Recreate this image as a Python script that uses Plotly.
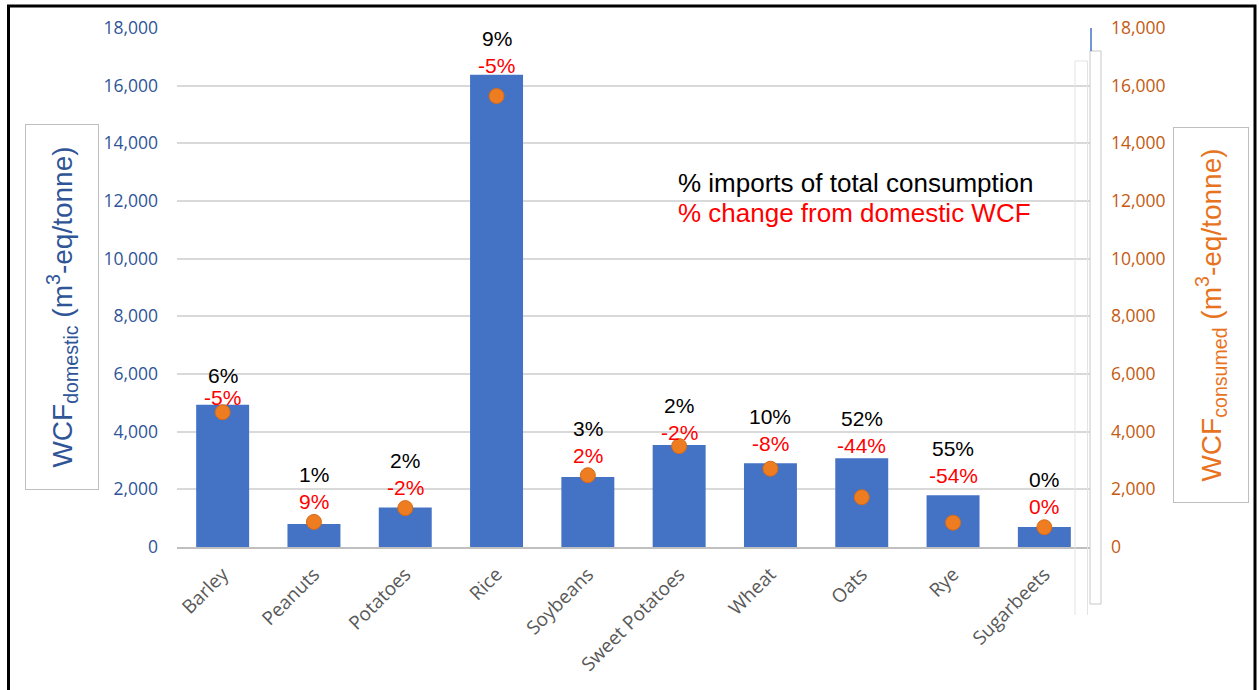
import plotly.graph_objects as go

crops = ["Barley", "Peanuts", "Potatoes", "Rice", "Soybeans", "Sweet Potatoes",
         "Wheat", "Oats", "Rye", "Sugarbeets"]
wcf_domestic = [4930, 800, 1370, 16380, 2430, 3540, 2905, 3080, 1795, 695]
wcf_consumed = [4675, 870, 1350, 15640, 2490, 3500, 2715, 1725, 845, 685]
imports_pct = [6, 1, 2, 9, 3, 2, 10, 52, 55, 0]
change_pct = [-5, 9, -2, -5, 2, -2, -8, -44, -54, 0]
y_ticks = list(range(0, 18001, 2000))

# manual label nudges (pixels: red label, black label), as placed in the original chart
label_nudge = {"Barley": (-13, -18), "Rice": (-11, -11), "Sweet Potatoes": (-8, -8), "Oats": (-7, -7)}

W, H = 1259, 690
L, R, T, B = 177, 1090, 28, 547  # plot area in pixels


def px(x):
    return (x - L) / (R - L)


def py(y):
    return (B - y) / (B - T)


fig = go.Figure()
fig.add_trace(go.Bar(x=crops, y=wcf_domestic, marker=dict(color="#4472C4", line=dict(width=0)),
                     width=0.58, yaxis="y", name="WCF domestic"))
fig.add_trace(go.Scatter(x=crops, y=wcf_consumed, mode="markers", yaxis="y2", name="WCF consumed",
                         marker=dict(size=15, color="#EE7D22", line=dict(width=1, color="#D86A17"))))

annotations = []
for c, d, v, imp, chg in zip(crops, wcf_domestic, wcf_consumed, imports_pct, change_pct):
    top = max(d, v)
    nr, nb = label_nudge.get(c, (0, 0))
    annotations.append(dict(x=c, y=top, xref="x", yref="y", text=f"{chg}%", showarrow=False,
                            yshift=20 + nr, yanchor="middle",
                            font=dict(family="Liberation Sans", size=21, color="#FF0000")))
    annotations.append(dict(x=c, y=top, xref="x", yref="y", text=f"{imp}%", showarrow=False,
                            yshift=47 + nb, yanchor="middle",
                            font=dict(family="Liberation Sans", size=21, color="#000000")))

annotations.append(dict(x=px(676), y=py(183), xref="paper", yref="paper", xanchor="left", yanchor="middle",
                        text="% imports of total consumption", showarrow=False,
                        font=dict(family="Liberation Sans", size=26, color="#000000")))
annotations.append(dict(x=px(676), y=py(213), xref="paper", yref="paper", xanchor="left", yanchor="middle",
                        text="% change from domestic WCF", showarrow=False,
                        font=dict(family="Liberation Sans", size=26, color="#FF0000")))

annotations.append(dict(x=px(62), y=py(307), xref="paper", yref="paper", xanchor="center", yanchor="middle",
                        text="WCF<sub>domestic</sub> (m<sup>3</sup>-eq/tonne)", showarrow=False,
                        textangle=-90, width=362, height=70, bordercolor="#BFBFBF", borderwidth=1,
                        font=dict(family="Liberation Sans", size=28, color="#2F5597")))
annotations.append(dict(x=px(1211), y=py(315), xref="paper", yref="paper", xanchor="center", yanchor="middle",
                        text="WCF<sub>consumed</sub> (m<sup>3</sup>-eq/tonne)", showarrow=False,
                        textangle=-90, width=372, height=72, bordercolor="#BFBFBF", borderwidth=1,
                        font=dict(family="Liberation Sans", size=28, color="#E8731E")))

shapes = [
    # outer black frame
    dict(type="rect", xref="paper", yref="paper", x0=px(8.5), x1=px(1255), y0=py(700), y1=py(6),
         line=dict(color="#000000", width=3), fillcolor="rgba(0,0,0,0)", layer="above"),
    # leftover chart-object outlines at right of the plot
    dict(type="rect", xref="paper", yref="paper", x0=px(1090), x1=px(1101), y0=py(604), y1=py(51),
         line=dict(color="#C8C8C8", width=1), fillcolor="rgba(0,0,0,0)"),
    dict(type="line", xref="paper", yref="paper", x0=px(1075), x1=px(1075), y0=py(615), y1=py(61),
         line=dict(color="#E3E3E3", width=1)),
    dict(type="line", xref="paper", yref="paper", x0=px(1087.5), x1=px(1087.5), y0=py(615), y1=py(61),
         line=dict(color="#E3E3E3", width=1)),
    dict(type="line", xref="paper", yref="paper", x0=px(1075), x1=px(1087.5), y0=py(61), y1=py(61),
         line=dict(color="#E3E3E3", width=1)),
    dict(type="line", xref="paper", yref="paper", x0=px(1091), x1=px(1091), y0=py(51), y1=py(28),
         line=dict(color="#4472C4", width=1.5)),
]

fig.update_layout(
    width=W, height=H,
    margin=dict(l=L, r=W - R, t=T, b=H - B, pad=0),
    paper_bgcolor="white", plot_bgcolor="white",
    showlegend=False,
    bargap=0.42,
    annotations=annotations,
    shapes=shapes,
    xaxis=dict(range=[-0.5, 9.5], tickangle=-45, showline=True, linecolor="#BFBFBF", linewidth=1.5,
               ticks="outside", ticklen=7, tickcolor="rgba(0,0,0,0)", showgrid=False,
               tickfont=dict(family="Open Sans", size=19, color="#595959")),
    yaxis=dict(range=[0, 18000], tickvals=y_ticks, tickformat=",", showgrid=True, gridcolor="#D9D9D9",
               gridwidth=1.5, zeroline=False, showline=False, ticks="", ticklabelstandoff=18,
               tickfont=dict(family="Open Sans", size=17.5, color="#2F5597")),
    yaxis2=dict(range=[0, 18000], tickvals=y_ticks, tickformat=",", overlaying="y", side="right",
                showgrid=False, zeroline=False, showline=False, ticks="", ticklabelstandoff=20,
                tickfont=dict(family="Open Sans", size=17.5, color="#C55A11")),
)

fig.write_html("out.html", config={"displayModeBar": False},
               post_script="document.body.style.margin='0';document.body.style.overflow='hidden';")
